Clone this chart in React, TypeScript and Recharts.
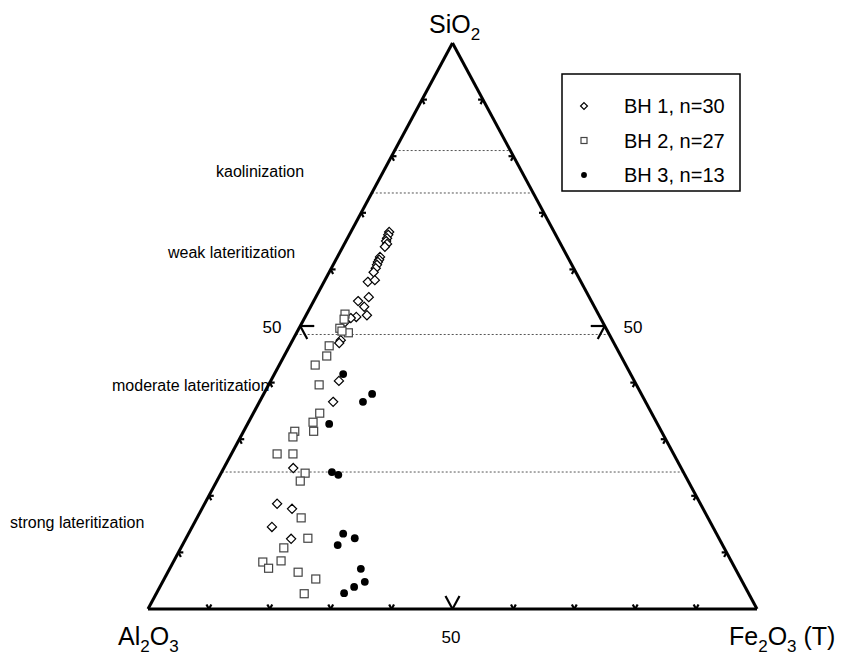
import React from 'react';
import { ScatterChart, Scatter, XAxis, YAxis, ReferenceLine } from 'recharts';

// compositions, in % (SiO2, Fe2O3); Al2O3 is the rest
const BH1_SI = [66.6, 66.1, 65.5, 65.0, 64.5, 64.0, 62.2, 61.7, 61.3, 60.8, 60.2, 59.5, 57.8, 58.1, 55.1, 54.4, 53.4, 51.9, 51.6, 51.4, 50.7, 47.5, 47.0, 40.3, 36.6, 24.9, 18.6, 17.7, 14.5, 12.4];
const BH1_FE = [6.3, 6.4, 6.5, 6.6, 7.0, 6.9, 7.0, 7.1, 7.1, 7.2, 7.3, 7.3, 7.2, 8.2, 8.7, 7.3, 8.8, 10.0, 8.4, 7.6, 7.0, 7.9, 7.9, 11.2, 12.1, 11.4, 11.9, 14.8, 13.1, 17.3];

const BH2_SI = [52.1, 51.2, 49.6, 48.8, 49.1, 46.5, 44.7, 43.1, 39.6, 34.6, 33.0, 31.4, 31.4, 30.4, 27.4, 27.4, 24.0, 22.6, 16.1, 12.5, 10.8, 8.5, 8.3, 7.2, 6.5, 5.3, 2.7];
const BH2_FE = [6.3, 6.6, 6.7, 8.5, 7.3, 6.5, 7.0, 5.9, 8.3, 10.9, 10.6, 11.5, 8.4, 8.6, 7.5, 10.1, 13.8, 13.7, 17.1, 20.0, 16.9, 17.6, 14.7, 16.2, 21.4, 24.9, 24.3];

const BH3_SI = [41.5, 38.0, 36.6, 32.7, 24.2, 23.7, 13.3, 12.5, 11.3, 7.1, 4.8, 3.9, 2.8];
const BH3_FE = [11.3, 17.8, 17.0, 13.4, 18.1, 19.4, 25.4, 27.7, 25.5, 31.4, 33.2, 31.9, 30.8];

// SiO2 levels of the dotted boundaries
const BOUNDARIES = [81, 73.5, 48.5, 24.2];
const TICKS = [10, 20, 30, 40, 50, 60, 70, 80, 90];

const REGIONS = [
  { label: 'kaolinization', x: 216, y: 177 },
  { label: 'weak lateritization', x: 168, y: 258 },
  { label: 'moderate lateritization', x: 112, y: 391 },
  { label: 'strong lateritization', x: 10, y: 528 },
];

const SERIES = [
  { name: 'BH 1, n=30', si: BH1_SI, fe: BH1_FE, kind: 'diamond' },
  { name: 'BH 2, n=27', si: BH2_SI, fe: BH2_FE, kind: 'square' },
  { name: 'BH 3, n=13', si: BH3_SI, fe: BH3_FE, kind: 'circle' },
];

const FONT = '"Liberation Sans", Arial, sans-serif';

// ternary -> cartesian in a 0..100 frame (apex at x=50)
const toXY = (si: number, fe: number) => ({ x: fe + si / 2, y: si });

function Marker({ kind, cx, cy, s = 1 }: { kind: string; cx: number; cy: number; s?: number }) {
  if (kind === 'diamond') {
    const d = 4.6 * s;
    return <path d={`M${cx},${cy - d}L${cx + d},${cy}L${cx},${cy + d}L${cx - d},${cy}Z`} fill="#fff" stroke="#000" strokeWidth={1.2} />;
  }
  if (kind === 'square') {
    const h = 4 * s;
    return <rect x={cx - h} y={cy - h} width={h * 2} height={h * 2} fill="#fff" stroke="#444" strokeWidth={1.2} />;
  }
  return <circle cx={cx} cy={cy} r={3.9 * s} fill="#000" />;
}

const seg = (a: number[], b: number[]) => [{ x: a[0], y: a[1] }, { x: b[0], y: b[1] }];

export default function App() {
  const lines: any[] = [];
  // frame
  lines.push(seg([0, 0], [100, 0]), seg([0, 0], [50, 100]), seg([100, 0], [50, 100]));

  const ticks: any[] = [];
  TICKS.forEach(v => {
    const a = v === 50 ? 2.3 : 0.8;
    // base
    ticks.push(seg([v, 0], [v - a / 2, a]), seg([v, 0], [v + a / 2, a]));
    // left edge
    ticks.push(seg([v / 2, v], [v / 2 + a, v]), seg([v / 2, v], [v / 2 + a / 2, v - a]));
    // right edge
    ticks.push(seg([100 - v / 2, v], [100 - v / 2 - a, v]), seg([100 - v / 2, v], [100 - v / 2 - a / 2, v - a]));
  });

  return (
    <div style={{ position: 'absolute', left: 0, top: 0, background: '#fff' }}>
      <ScatterChart width={845} height={655} margin={{ top: 43, right: 88, bottom: 46, left: 148 }}>
        <XAxis type="number" dataKey="x" domain={[0, 100]} hide />
        <YAxis type="number" dataKey="y" domain={[0, 100]} hide />

        {BOUNDARIES.map((si, i) => (
          <ReferenceLine key={'b' + i} segment={seg([si / 2, si], [100 - si / 2, si])}
            stroke="#555" strokeWidth={1} strokeDasharray="2 2" />
        ))}
        {lines.map((s, i) => <ReferenceLine key={'f' + i} segment={s} stroke="#000" strokeWidth={3} />)}
        {ticks.map((s, i) => <ReferenceLine key={'t' + i} segment={s} stroke="#000" strokeWidth={2.2} />)}

        {SERIES.map(s => (
          <Scatter key={s.name} name={s.name} isAnimationActive={false}
            data={s.si.map((si, i) => toXY(si, s.fe[i]))}
            shape={(p: any) => <Marker kind={s.kind} cx={p.cx} cy={p.cy} />} />
        ))}

        <g fontFamily={FONT} fill="#000">
          <text x={429} y={33} fontSize={25}>SiO<tspan dy={7} fontSize={17}>2</tspan></text>
          <text x={118} y={645} fontSize={25}>Al<tspan dy={7} fontSize={17}>2</tspan><tspan dy={-7}>O</tspan><tspan dy={7} fontSize={17}>3</tspan></text>
          <text x={729} y={645} fontSize={25}>Fe<tspan dy={7} fontSize={17}>2</tspan><tspan dy={-7}>O</tspan><tspan dy={7} fontSize={17}>3</tspan><tspan dy={-7}> (T)</tspan></text>
          <text x={272} y={333} fontSize={17} textAnchor="middle">50</text>
          <text x={633} y={333} fontSize={17} textAnchor="middle">50</text>
          <text x={451} y={643} fontSize={17} textAnchor="middle">50</text>
          {REGIONS.map(r => <text key={r.label} x={r.x} y={r.y} fontSize={16}>{r.label}</text>)}
        </g>

        <g fontFamily={FONT}>
          <rect x={562} y={74} width={178} height={117} fill="#fff" stroke="#000" strokeWidth={1.5} />
          {SERIES.map((s, i) => (
            <g key={s.name}>
              <Marker kind={s.kind} cx={584} cy={106 + i * 34.5} s={0.75} />
              <text x={624} y={113 + i * 34.5} fontSize={20} fill="#000">{s.name}</text>
            </g>
          ))}
        </g>
      </ScatterChart>
    </div>
  );
}
